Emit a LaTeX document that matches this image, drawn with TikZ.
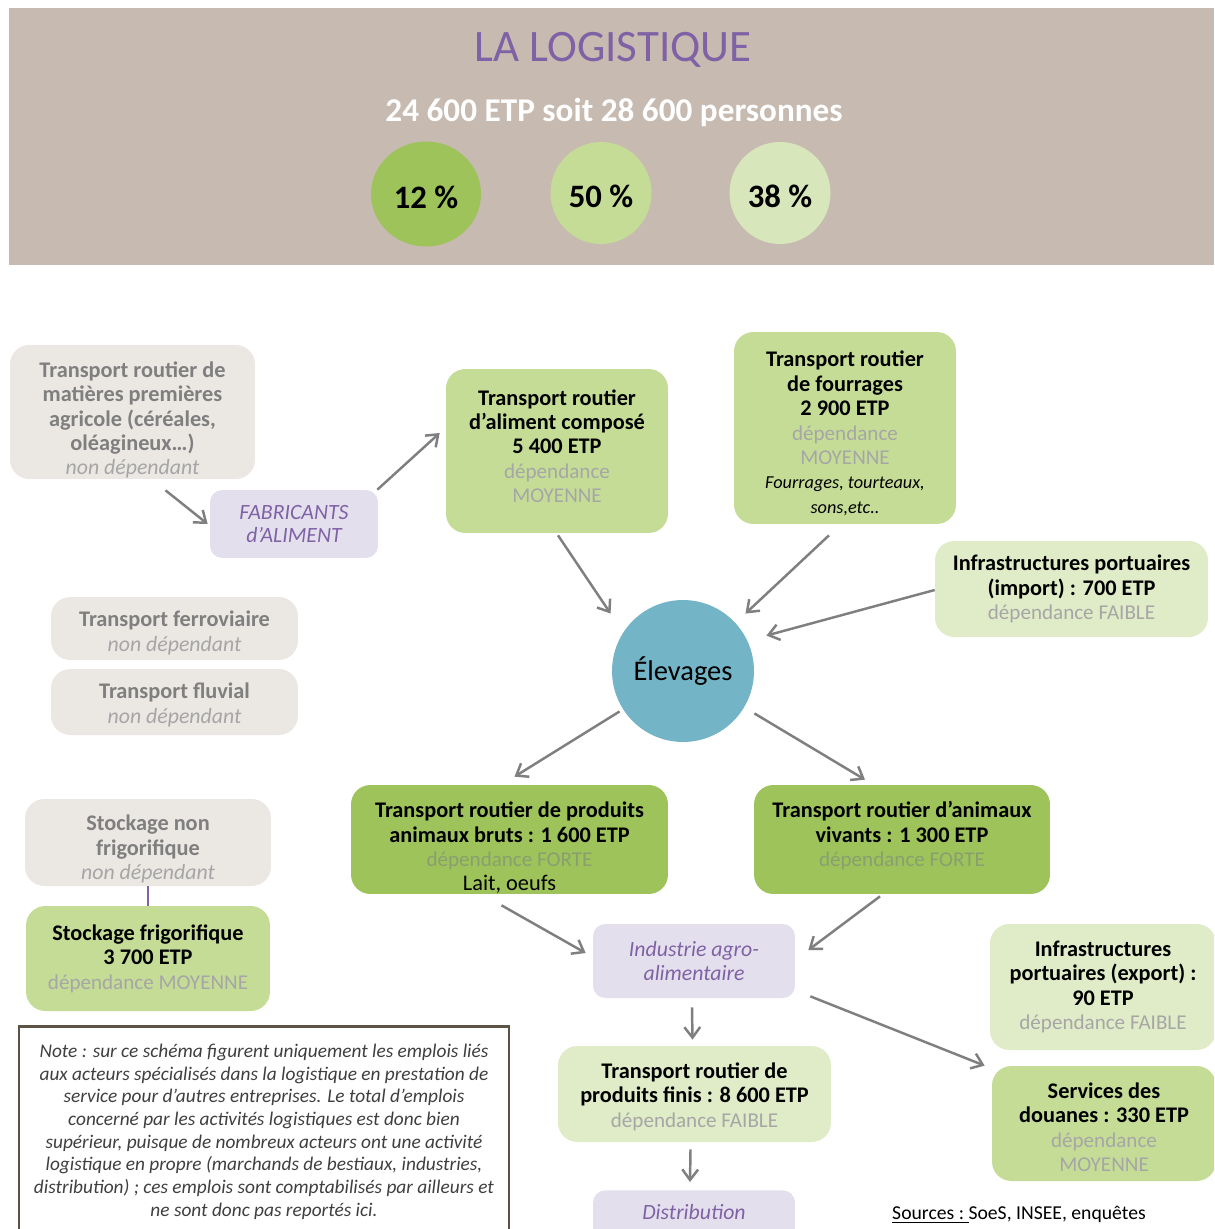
\documentclass[tikz,border=0pt]{standalone}
\usepackage{fontspec}
\setmainfont{Carlito}
\usetikzlibrary{shapes.geometric,arrows.meta,calc}

\definecolor{fondtete}{HTML}{C7BAB0}
\definecolor{violet}{HTML}{7F62A6}
\definecolor{vert1}{HTML}{9DC35A}
\definecolor{vert2}{HTML}{C5DC97}
\definecolor{vert3}{HTML}{E0EBC7}
\definecolor{cercle3}{HTML}{D8E6BC}
\definecolor{grisfond}{HTML}{EBE7E3}
\definecolor{gristitre}{HTML}{7F7F7F}
\definecolor{grisclair}{HTML}{A6A6A6}
\definecolor{depfort}{HTML}{8A9F70}
\definecolor{lavande}{HTML}{E4DFEC}
\definecolor{bleu}{HTML}{74B4C7}
\definecolor{grisfleche}{HTML}{7F7F7F}
\definecolor{bordnote}{HTML}{5B5446}
\definecolor{textenote}{HTML}{3F3F3F}

\newcommand{\dep}[1]{{\mdseries\fontsize{12}{13.9}\selectfont\color{grisclair}#1}}
\newcommand{\depf}[1]{{\mdseries\fontsize{12}{13.9}\selectfont\color{depfort}#1}}
\newcommand{\nondep}{{\mdseries\itshape\fontsize{12.4}{13.9}\selectfont\color{grisclair}non dépendant}}
\newcommand{\ital}[1]{{\mdseries\itshape\fontsize{10.4}{13}\selectfont #1}}
% decalage vertical du texte dans les boites
\newcommand{\descend}[1]{\rule{0pt}{#1}}
\newcommand{\remonte}[1]{\rule[-#1]{0pt}{#1}}

\begin{document}
\begin{tikzpicture}[x=0.02cm, y=-0.02cm,
    every node/.style={align=center, font=\fontsize{12}{13.9}\selectfont},
    boite/.style={rounded corners=11pt, inner ysep=0pt, font=\fontsize{12.7}{13.9}\selectfont\bfseries},
    grise/.style={boite, fill=grisfond, text=gristitre},
    vertfonce/.style={boite, fill=vert1},
    vertmoyen/.style={boite, fill=vert2},
    vertclair/.style={boite, fill=vert3},
    acteur/.style={rounded corners=7pt, fill=lavande, text=violet, font=\fontsize{12.4}{13.6}\selectfont\itshape},
    pourcent/.style={ellipse, inner sep=0pt, font=\fontsize{18.6}{20}\selectfont\bfseries},
    fleche/.style={draw=grisfleche, line width=1.4pt, -{Straight Barb[length=6pt,width=9pt]}}]
    \clip (0,0) rectangle (1214,1229);
    \fill[white] (0,0) rectangle (1214,1229);

    % Bandeau du haut
    \fill[fondtete] (9,8) rectangle (1214,265);
    \node[text=violet, font=\fontsize{25.6}{30}\selectfont] (titre) at (613,50) {LA LOGISTIQUE};
    \node[text=white, font=\fontsize{18.9}{22}\selectfont\bfseries] (effectif) at (614,112) {24 600 ETP soit 28 600 personnes};
    \node[pourcent, fill=vert1, minimum width=2.2cm, minimum height=2.1cm] (p12) at (426,194) {\descend{17pt}12 \%};
    \node[pourcent, fill=vert2, minimum width=2.02cm, minimum height=2.04cm] (p50) at (601,193) {\descend{17pt}50 \%};
    \node[pourcent, fill=cercle3, minimum width=2.02cm, minimum height=2.04cm] (p38) at (780,193) {\descend{17pt}38 \%};

    % Amont : alimentation des elevages
    \node[grise, minimum width=4.9cm, minimum height=2.68cm] (mat) at (132.5,412)
        {\descend{18pt}Transport routier de\\matières premières\\agricole (céréales,\\oléagineux…)\\\nondep};
    \node[acteur, minimum width=3.36cm, minimum height=1.36cm] (fab) at (294,524) {FABRICANTS\\d’ALIMENT};
    \node[vertmoyen, minimum width=4.44cm, minimum height=3.28cm] (alim) at (557,451)
        {Transport routier\\d’aliment composé\\5 400 ETP\\\dep{dépendance}\\\dep{MOYENNE}\remonte{5.6pt}};
    \node[vertmoyen, minimum width=4.44cm, minimum height=3.84cm] (four) at (845,428)
        {\descend{15pt}Transport routier\\de fourrages\\2 900 ETP\\\dep{dépendance}\\\dep{MOYENNE}\\\ital{Fourrages, tourteaux,}\\\ital{sons,etc..}};
    \node[vertclair, minimum width=5.46cm, minimum height=1.92cm] (imp) at (1071.5,589)
        {Infrastructures portuaires\\(import) : 700 ETP\\\dep{dépendance FAIBLE}};
    \node[grise, minimum width=4.94cm, minimum height=1.26cm] (fer) at (174.5,628.5) {\descend{14pt}Transport ferroviaire\\\nondep};
    \node[grise, minimum width=4.94cm, minimum height=1.32cm] (flu) at (174.5,702) {\descend{12pt}Transport fluvial\\\nondep};

    % Elevages
    \node[circle, fill=bleu, minimum size=2.84cm, inner sep=0pt, font=\fontsize{16.2}{18}\selectfont] (elev) at (683,671) {Élevages};

    % Aval
    \node[vertfonce, minimum width=6.34cm, minimum height=2.18cm] (bruts) at (509.5,839.5)
        {\descend{18.5pt}Transport routier de produits\\animaux bruts : 1 600 ETP\\\depf{dépendance FORTE}\\{\mdseries Lait, oeufs}};
    \node[vertfonce, minimum width=5.92cm, minimum height=2.18cm] (viv) at (902,839.5)
        {Transport routier d’animaux\\vivants : 1 300 ETP\\\depf{dépendance FORTE}\remonte{6.4pt}};
    \node[grise, minimum width=4.92cm, minimum height=1.74cm] (stnf) at (148,842.5) {\descend{16.3pt}Stockage non\\frigorifique\\\nondep};
    \node[vertmoyen, minimum width=4.88cm, minimum height=2.1cm] (stf) at (148,958.5)
        {Stockage frigorifique\\3 700 ETP\\\dep{dépendance MOYENNE}};
    \node[acteur, minimum width=4.04cm, minimum height=1.48cm] (ind) at (694,961) {Industrie agro-\\alimentaire};
    \node[vertclair, minimum width=4.52cm, minimum height=2.52cm] (exp) at (1103,987)
        {Infrastructures\\portuaires (export) :\\90 ETP\\\dep{dépendance FAIBLE}};
    \node[vertmoyen, minimum width=4.48cm, minimum height=2.3cm] (dou) at (1104,1123.5)
        {\descend{13pt}Services des\\douanes : 330 ETP\\\dep{dépendance}\\\dep{MOYENNE}};
    \node[vertclair, minimum width=5.46cm, minimum height=1.92cm] (fin) at (694.5,1094)
        {\descend{12pt}Transport routier de\\produits finis : 8 600 ETP\\\dep{dépendance FAIBLE}};
    \node[acteur, anchor=north, minimum width=4.04cm, inner ysep=8pt, text depth=20pt] (dist) at (694,1190) {Distribution};

    \draw[violet, line width=1.7pt] (stnf.south) -- (stf.north);

    % Fleches
    \draw[fleche] ($(mat.south)+(33,11)$) -- ($(fab.west)+(-2,0)$);
    \draw[fleche] ($(fab.north east)+(-1,0)$) -- ($(alim.west)+(-6,-18)$);
    \draw[fleche] ($(alim.south)+(1,2)$) -- ($(elev.north west)+(-22,-7)$);
    \draw[fleche] ($(four.south)+(-16,11)$) -- ($(elev.north east)+(12,-7)$);
    \draw[fleche] ($(imp.west)+(0,1)$) -- ($(elev.north east)+(33,15)$);
    \draw[fleche] ($(elev.south west)+(-13,-10)$) -- ($(bruts.north)+(5,-8)$);
    \draw[fleche] ($(elev.south east)+(21,-8)$) -- ($(viv.north)+(-37,-5)$);
    \draw[fleche] ($(bruts.south)+(-8,11)$) -- ($(ind.west)+(-7,-8)$);
    \draw[fleche] ($(viv.south)+(-22,2)$) -- ($(ind.east)+(13,-11)$);
    \draw[fleche] ($(ind.south)+(-2,9)$) -- ($(fin.north)+(-2,-6)$);
    \draw[fleche] ($(ind.south east)+(15,-2)$) -- ($(dou.north west)+(-7,0)$);
    \draw[fleche] ($(fin.south)+(-4,7)$) -- ($(dist.north)+(-4,-8)$);

    % Note et sources
    \node[draw=bordnote, line width=1.6pt, fill=white, anchor=north, minimum width=9.8cm, inner ysep=10pt,
        text=textenote, font=\fontsize{11}{12.9}\selectfont\itshape] (note) at (264,1025)
        {Note : sur ce schéma figurent uniquement les emplois liés\\
         aux acteurs spécialisés dans la logistique en prestation de\\
         service pour d’autres entreprises. Le total d’emplois\\
         concerné par les activités logistiques est donc bien\\
         supérieur, puisque de nombreux acteurs ont une activité\\
         logistique en propre (marchands de bestiaux, industries,\\
         distribution) ; ces emplois sont comptabilisés par ailleurs et\\
         ne sont donc pas reportés ici.};
    \node[font=\fontsize{11.2}{13}\selectfont] (sources) at (1019,1215) {\underline{Sources :\ }SoeS, INSEE, enquêtes};
\end{tikzpicture}
\end{document}
